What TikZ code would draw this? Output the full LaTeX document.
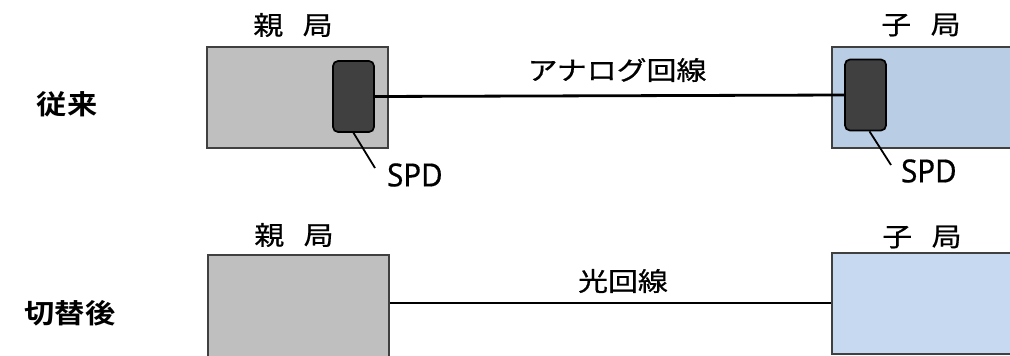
\documentclass[tikz,border=0pt]{standalone}
\usepackage{fontspec}
\newfontfamily\jp[FakeStretch=1.15,FakeBold=0.6]{Noto Sans CJK JP}
\newfontfamily\jpb[FakeStretch=1.12]{Noto Sans CJK JP Bold}
\newfontfamily\lat[FakeStretch=0.92,FakeBold=0.4]{Noto Sans}
\definecolor{boxgray}{HTML}{BFBFBF}
\definecolor{boxblue}{HTML}{B9CDE5}
\definecolor{boxblue2}{HTML}{C6D9F1}
\definecolor{edge}{HTML}{404040}
\definecolor{spdfill}{HTML}{404040}
\tikzset{
  station/.style={draw=edge, line width=2pt, inner sep=0pt, rectangle},
  spdbox/.style={draw=black, fill=spdfill, line width=1.7pt, rounded corners=5pt, minimum width=41pt, minimum height=71pt, inner sep=0pt},
  jplabel/.style={font=\jp\fontsize{26}{26}\selectfont, inner sep=0pt},
  heading/.style={font=\jpb\fontsize{27}{27}\selectfont, inner sep=0pt},
  spdlabel/.style={font=\lat\fontsize{32}{32}\selectfont, inner sep=0pt, anchor=west},
  wire/.style={line width=2.8pt, black},
  leader/.style={line width=1.8pt, black}
}
\begin{document}
\begin{tikzpicture}[x=1pt,y=-1pt]
\useasboundingbox (0,0) rectangle (1010,356);
\clip (0,0) rectangle (1010,356);
\fill[white] (0,0) rectangle (1010,356);
% top row
\node[station, fill=boxgray, minimum width=181pt, minimum height=101pt] (pTop) at (297.5,97.5) {};
\node[station, fill=boxblue, minimum width=190pt, minimum height=101pt] (cTop) at (927,97.5) {};
\node[spdbox] (spdL) at (353.5,96.5) {};
\node[spdbox] (spdR) at (865.5,95) {};
\draw[wire] (spdL.east) -- (spdR.west);
\node[jplabel] (lblAnalog) at (617,70) {アナログ回線};
\node[jplabel] (lblPTop) at (293,25) {親\hspace{0.75em}局};
\node[jplabel] (lblCTop) at (921,25) {子\hspace{0.75em}局};
\coordinate (spdLend) at (375,168);
\coordinate (spdRend) at (891,165);
\draw[leader] (spdL.south) -- (spdLend);
\draw[leader] ([xshift=4pt]spdR.south) -- (spdRend);
\node[spdlabel] (spdLtxt) at (387,175) {SPD};
\node[spdlabel] (spdRtxt) at (901,171) {SPD};
\node[heading] (hOld) at (67,104) {従来};
% bottom row
\node[station, fill=boxgray, minimum width=181pt, minimum height=110pt] (pBot) at (298.5,310) {};
\node[station, fill=boxblue2, minimum width=190pt, minimum height=101pt] (cBot) at (927,303.5) {};
\draw[wire] (pBot.east |- 0,303) -- (cBot.west |- 0,303);
\node[jplabel] (lblOpt) at (623,281) {光回線};
\node[jplabel] (lblPBot) at (294,235) {親\hspace{0.75em}局};
\node[jplabel] (lblCBot) at (922,237) {子\hspace{0.75em}局};
\node[heading] (hNew) at (70,313) {切替後};
\end{tikzpicture}
\end{document}
